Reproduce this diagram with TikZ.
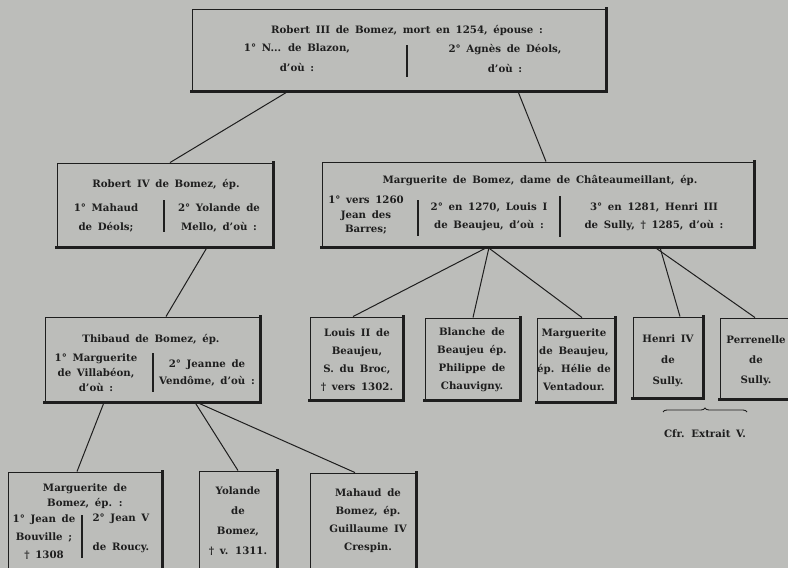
\documentclass[tikz,border=0pt]{standalone}
\usepackage{fontspec}
\setmainfont{DejaVu Serif}[WordSpace=1.6]
\usetikzlibrary{decorations.pathreplacing}
\definecolor{paper}{HTML}{BCBDBA}
\definecolor{ink}{HTML}{1E1E1E}
\tikzset{
  famb/.style={draw=ink, line width=0.9pt, inner sep=0pt, fill=none},
  txt/.style={align=center, inner sep=0pt, text=ink, font=\fontsize{10.2}{#1}\selectfont\bfseries},
  txt/.default=18pt,
  link/.style={draw=ink, line width=1pt},
  divl/.style={draw=ink, line width=1.1pt},
}
\begin{document}
\begin{tikzpicture}[x=1pt,y=-1pt]
\useasboundingbox (0,0) rectangle (788,568);
\fill[paper] (0,0) rectangle (788,568);
\clip (0,0) rectangle (788,568);

% boxes
\node[famb, minimum width=414pt, minimum height=82pt] (top) at (399,50) {};
\node[famb, minimum width=216pt, minimum height=84pt] (r4) at (165,205) {};
\node[famb, minimum width=432pt, minimum height=85pt] (marg) at (538,204.5) {};
\node[famb, minimum width=215pt, minimum height=85pt] (thib) at (152.5,359.5) {};
\node[famb, minimum width=93pt, minimum height=83pt] (louis) at (356.5,358.5) {};
\node[famb, minimum width=95pt, minimum height=82pt] (blanche) at (472.5,359) {};
\node[famb, minimum width=78pt, minimum height=84pt] (margb) at (576,360) {};
\node[famb, minimum width=70pt, minimum height=81pt] (henri) at (668,357.5) {};
\node[famb, minimum width=72pt, minimum height=81pt] (perr) at (756,358.5) {};
\node[famb, minimum width=154pt, minimum height=100pt] (mbomez) at (85,522) {};
\node[famb, minimum width=78pt, minimum height=101pt] (yol) at (238,521.5) {};
\node[famb, minimum width=106pt, minimum height=99pt] (mah) at (363,522.5) {};

% heavier right and bottom edges
\foreach \b in {top,r4,marg,thib,louis,blanche,margb,henri,perr,mbomez,yol,mah}{
  \draw[draw=ink, line width=2.6pt, line cap=rect] (\b.north east) -- (\b.south east) -- (\b.south west);
}

% texts: top
\node[txt] (t0) at (407,30) {Robert III de Bomez, mort en 1254, épouse :};
\node[txt=20pt] (t1) at (297,58) {1° N... de Blazon,\\d'où :};
\node[txt=20pt] (t2) at (505,58) {2° Agnès de Déols,\\d'où :};
\coordinate (td1) at (407,45); \coordinate (td2) at (407,77);
\draw[divl] (td1) -- (td2);

% Robert IV
\node[txt] (r0) at (166,184) {Robert IV de Bomez, ép.};
\node[txt=19pt] (r1) at (106,218) {1° Mahaud\\de Déols;};
\node[txt=19pt] (r2) at (219,218) {2° Yolande de\\Mello, d'où :};
\coordinate (rd1) at (164,200); \coordinate (rd2) at (164,232);
\draw[divl] (rd1) -- (rd2);

% Marguerite
\node[txt] (m0) at (540,181) {Marguerite de Bomez, dame de Châteaumeillant, ép.};
\node[txt=14.5pt] (m1) at (366,215) {1° vers 1260\\Jean des\\Barres;};
\node[txt] (m2) at (489,217) {2° en 1270, Louis I\\de Beaujeu, d'où :};
\node[txt] (m3) at (654,217) {3° en 1281, Henri III\\de Sully, \textdagger{} 1285, d'où :};
\coordinate (md1) at (418,200); \coordinate (md2) at (418,236);
\coordinate (md3) at (560,196); \coordinate (md4) at (560,237);
\draw[divl] (md1) -- (md2);
\draw[divl] (md3) -- (md4);

% Thibaud
\node[txt] (h0) at (151,339) {Thibaud de Bomez, ép.};
\node[txt=15pt] (h1) at (96,373) {1° Marguerite\\de Villabéon,\\d'où :};
\node[txt=17pt] (h2) at (207,373) {2° Jeanne de\\Vendôme, d'où :};
\coordinate (hd1) at (153,353); \coordinate (hd2) at (153,392);
\draw[divl] (hd1) -- (hd2);

% children of Marguerite
\node[txt] (l0) at (357,360) {Louis II de\\Beaujeu,\\S. du Broc,\\\textdagger{} vers 1302.};
\node[txt] (b0) at (472,360) {Blanche de\\Beaujeu ép.\\Philippe de\\Chauvigny.};
\node[txt] (g0) at (574,360) {Marguerite\\de Beaujeu,\\ép. Hélie de\\Ventadour.};
\node[txt=21pt] (s0) at (668,361) {Henri IV\\de\\Sully.};
\node[txt=20pt] (p0) at (756,361) {Perrenelle\\de\\Sully.};

% brace
\coordinate (br1) at (663,412); \coordinate (br2) at (747,412);
\draw[draw=ink, line width=0.9pt, decorate, decoration={brace, amplitude=4pt}] (br1) -- (br2);
\node[txt] (cfr) at (705,434) {Cfr. Extrait V.};

% children of Thibaud
\node[txt=15pt] (k0) at (85,496) {Marguerite de\\Bomez, ép. :};
\node[txt] (k1) at (44,537) {1° Jean de\\Bouville ;\\\textdagger{} 1308};
\node[txt=29pt] (k2) at (121,533.5) {2° Jean V\\de Roucy.};
\coordinate (kd1) at (82,515); \coordinate (kd2) at (82,558);
\draw[divl] (kd1) -- (kd2);
\node[txt=20pt] (y0) at (238,521) {Yolande\\de\\Bomez,\\\textdagger{} v. 1311.};
\node[txt] (a0) at (368,521) {Mahaud de\\Bomez, ép.\\Guillaume IV\\Crespin.};

% connectors
\draw[link] ([xshift=-111pt]top.south) -- ([xshift=5pt]r4.north);
\draw[link] ([xshift=119pt]top.south) -- ([xshift=8pt]marg.north);
\draw[link] ([xshift=42pt]r4.south) -- ([xshift=13.5pt]thib.north);
\draw[link] ([xshift=-51pt]marg.south) -- ([xshift=-3.5pt]louis.north);
\draw[link] ([xshift=-49pt]marg.south) -- ([xshift=0.5pt]blanche.north);
\draw[link] ([xshift=-50pt]marg.south) -- ([xshift=6pt]margb.north);
\draw[link] ([xshift=122pt]marg.south) -- ([xshift=12pt]henri.north);
\draw[link] ([xshift=117pt]marg.south) -- ([xshift=-1pt]perr.north);
\draw[link] ([xshift=-48.5pt]thib.south) -- ([xshift=-8pt]mbomez.north);
\draw[link] ([xshift=42.5pt]thib.south) -- (yol.north);
\draw[link] ([xshift=44.5pt]thib.south) -- ([xshift=-8pt]mah.north);
\end{tikzpicture}
\end{document}
